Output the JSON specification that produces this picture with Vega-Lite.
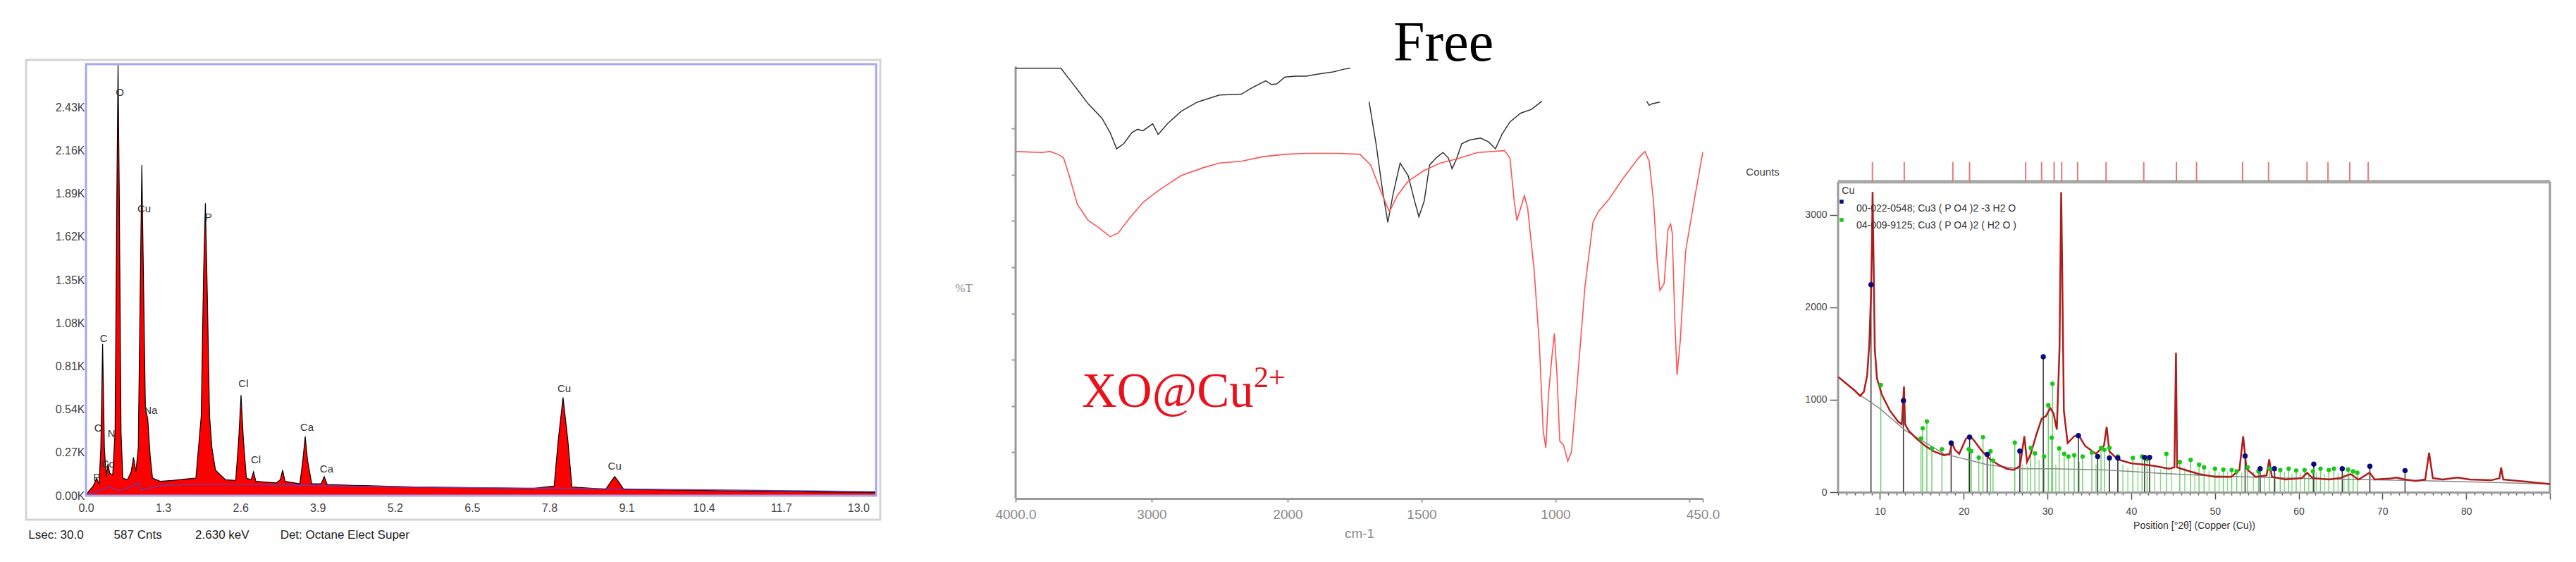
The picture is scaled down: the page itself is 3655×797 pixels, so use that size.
{
"$schema": "https://vega.github.io/schema/vega-lite/v6.json",
"autosize": {"type": "pad"},
"padding": 0,
"background": "white",
"bounds": "flush",
"spacing": 192,
"config": {"view": {"stroke": null}, "font": "Liberation Sans"},
"datasets": {
"eds": [
{"x":0,"y":0},{"x":0.05,"y":30},{"x":0.12,"y":60},{"x":0.18,"y":110},{"x":0.22,"y":70},{"x":0.25,"y":300},{"x":0.28,"y":950},{"x":0.31,"y":300},{"x":0.34,"y":120},{"x":0.37,"y":200},{"x":0.40,"y":140},{"x":0.45,"y":130},{"x":0.49,"y":400},{"x":0.52,"y":1900},{"x":0.54,"y":2700},{"x":0.56,"y":1900},{"x":0.59,"y":400},{"x":0.62,"y":110},{"x":0.70,"y":100},{"x":0.76,"y":150},{"x":0.80,"y":240},{"x":0.84,"y":150},{"x":0.88,"y":300},{"x":0.91,"y":1200},{"x":0.94,"y":2070},{"x":0.97,"y":1300},{"x":1.00,"y":550},{"x":1.04,"y":480},{"x":1.08,"y":250},{"x":1.12,"y":110},{"x":1.25,"y":90},{"x":1.45,"y":95},{"x":1.70,"y":105},{"x":1.85,"y":110},{"x":1.94,"y":500},{"x":1.98,"y":1400},{"x":2.01,"y":1830},{"x":2.04,"y":1300},{"x":2.08,"y":500},{"x":2.12,"y":300},{"x":2.18,"y":160},{"x":2.35,"y":100},{"x":2.52,"y":95},{"x":2.57,"y":350},{"x":2.61,"y":630},{"x":2.65,"y":350},{"x":2.70,"y":110},{"x":2.78,"y":100},{"x":2.82,"y":150},{"x":2.86,"y":90},{"x":3.20,"y":80},{"x":3.27,"y":100},{"x":3.31,"y":160},{"x":3.35,"y":90},{"x":3.60,"y":75},{"x":3.65,"y":220},{"x":3.69,"y":370},{"x":3.73,"y":220},{"x":3.80,"y":75},{"x":3.96,"y":75},{"x":4.01,"y":120},{"x":4.06,"y":70},{"x":4.5,"y":65},{"x":5.5,"y":55},{"x":6.5,"y":50},{"x":7.5,"y":45},{"x":7.88,"y":60},{"x":7.95,"y":350},{"x":8.03,"y":615},{"x":8.11,"y":350},{"x":8.18,"y":55},{"x":8.75,"y":40},{"x":8.82,"y":80},{"x":8.90,"y":120},{"x":8.98,"y":80},{"x":9.05,"y":40},{"x":10.0,"y":35},{"x":11.0,"y":30},{"x":12.0,"y":25},{"x":13.3,"y":20}
],
"edsbg": [
{"x":0,"y":0},{"x":0.2,"y":30},{"x":0.4,"y":55},{"x":0.5,"y":35},{"x":0.6,"y":35},{"x":0.75,"y":55},{"x":0.88,"y":80},{"x":0.93,"y":35},{"x":1.2,"y":60},{"x":1.46,"y":68},{"x":1.75,"y":72},{"x":2.43,"y":72},{"x":3.4,"y":66},{"x":4.4,"y":60},{"x":6,"y":52},{"x":8.2,"y":45},{"x":10.2,"y":38},{"x":13.3,"y":25}
],
"edslab": [
{"x":0.57,"y":2522,"t":"O"},{"x":0.98,"y":1797,"t":"Cu"},{"x":2.06,"y":1744,"t":"P"},{"x":0.30,"y":985,"t":"C"},{"x":1.09,"y":532,"t":"Na"},{"x":2.65,"y":700,"t":"Cl"},{"x":2.86,"y":227,"t":"Cl"},{"x":3.72,"y":430,"t":"Ca"},{"x":4.05,"y":168,"t":"Ca"},{"x":8.05,"y":670,"t":"Cu"},{"x":8.90,"y":187,"t":"Cu"},{"x":0.21,"y":424,"t":"O"},{"x":0.43,"y":388,"t":"N"},{"x":0.37,"y":199,"t":"Cd"},{"x":0.18,"y":115,"t":"P"}
],
"edsfoot": [
{"x":-0.97,"y":-247,"t":"Lsec: 30.0"},{"x":0.47,"y":-247,"t":"587 Cnts"},{"x":1.84,"y":-247,"t":"2.630 keV"},{"x":3.27,"y":-247,"t":"Det: Octane Elect Super"}
],
"free": [
{"x":4000,"y":93,"s":1},{"x":3667,"y":93,"s":1},{"x":3546,"y":88.4,"s":1},{"x":3466,"y":85.3,"s":1},{"x":3365,"y":82.2,"s":1},{"x":3305,"y":79.1,"s":1},{"x":3257,"y":75.6,"s":1},{"x":3205,"y":76.7,"s":1},{"x":3145,"y":79.1,"s":1},{"x":3104,"y":79.8,"s":1},{"x":3064,"y":79.5,"s":1},{"x":2992,"y":81,"s":1},{"x":2952,"y":78.7,"s":1},{"x":2884,"y":81,"s":1},{"x":2783,"y":83.7,"s":1},{"x":2663,"y":85.7,"s":1},{"x":2502,"y":87.2,"s":1},{"x":2341,"y":87.4,"s":1},{"x":2261,"y":88.8,"s":1},{"x":2161,"y":90.3,"s":1},{"x":2120,"y":89.5,"s":1},{"x":2080,"y":89.6,"s":1},{"x":2020,"y":91.1,"s":1},{"x":1970,"y":91.3,"s":1},{"x":1930,"y":91.3,"s":1},{"x":1890,"y":91.7,"s":1},{"x":1830,"y":92.2,"s":1},{"x":1790,"y":92.8,"s":1},{"x":1766,"y":93,"s":1},
{"x":1696,"y":85.8,"s":2},{"x":1670,"y":76.7,"s":2},{"x":1646,"y":66.7,"s":2},{"x":1626,"y":59.7,"s":2},{"x":1606,"y":65.9,"s":2},{"x":1580,"y":72.5,"s":2},{"x":1550,"y":69.8,"s":2},{"x":1526,"y":64.3,"s":2},{"x":1510,"y":60.9,"s":2},{"x":1490,"y":64.3,"s":2},{"x":1470,"y":72.1,"s":2},{"x":1446,"y":73.6,"s":2},{"x":1420,"y":74.8,"s":2},{"x":1400,"y":73.6,"s":2},{"x":1386,"y":71.3,"s":2},{"x":1370,"y":73.3,"s":2},{"x":1350,"y":76.7,"s":2},{"x":1320,"y":77.5,"s":2},{"x":1280,"y":77.9,"s":2},{"x":1250,"y":77.1,"s":2},{"x":1224,"y":75.6,"s":2},{"x":1200,"y":78.7,"s":2},{"x":1170,"y":81.4,"s":2},{"x":1130,"y":83.3,"s":2},{"x":1090,"y":84.1,"s":2},{"x":1050,"y":85.9,"s":2},
{"x":660,"y":85.9,"s":3},{"x":650,"y":85.0,"s":3},{"x":640,"y":85.3,"s":3},{"x":610,"y":85.7,"s":3}
],
"cu": [
{"x":4000,"y":75},{"x":3807,"y":74.8},{"x":3747,"y":75},{"x":3687,"y":74.4},{"x":3647,"y":73.6},{"x":3606,"y":69.8},{"x":3546,"y":63.6},{"x":3466,"y":60.1},{"x":3386,"y":58.5},{"x":3305,"y":56.6},{"x":3245,"y":57.4},{"x":3165,"y":60.5},{"x":3064,"y":64},{"x":2944,"y":66.7},{"x":2783,"y":69.8},{"x":2622,"y":71.5},{"x":2502,"y":72.5},{"x":2341,"y":72.9},{"x":2181,"y":73.9},{"x":2020,"y":74.4},{"x":1930,"y":74.6},{"x":1810,"y":74.6},{"x":1730,"y":74.4},{"x":1690,"y":72.1},{"x":1654,"y":66.7},{"x":1620,"y":62},{"x":1590,"y":65.5},{"x":1550,"y":68.6},{"x":1490,"y":70.9},{"x":1430,"y":72.5},{"x":1370,"y":73.4},{"x":1290,"y":74.8},{"x":1190,"y":75.2},{"x":1170,"y":73.6},{"x":1154,"y":64.3},{"x":1144,"y":60.1},{"x":1130,"y":62.8},{"x":1116,"y":65.5},{"x":1104,"y":62.8},{"x":1080,"y":49.6},{"x":1060,"y":33.3},{"x":1046,"y":14.7},{"x":1036,"y":10.9},{"x":1026,"y":22.5},{"x":1014,"y":30.2},{"x":1004,"y":35.7},{"x":994,"y":26.4},{"x":984,"y":12.4},{"x":970,"y":11.6},{"x":954,"y":8.1},{"x":940,"y":10.1},{"x":920,"y":24},{"x":890,"y":45.7},{"x":860,"y":59.7},{"x":840,"y":62},{"x":800,"y":64.7},{"x":750,"y":69},{"x":690,"y":73.6},{"x":666,"y":75},{"x":650,"y":72.9},{"x":634,"y":64.3},{"x":620,"y":51.2},{"x":610,"y":45},{"x":594,"y":46.5},{"x":580,"y":58.1},{"x":570,"y":59.3},{"x":564,"y":57.4},{"x":554,"y":38},{"x":546,"y":26.7},{"x":534,"y":34.1},{"x":514,"y":53.5},{"x":480,"y":65.1},{"x":450,"y":74.8}
],
"xrd": [
{"x":5.04,"y":1247},{"x":6.01,"y":1174},{"x":6.98,"y":1101},{"x":7.63,"y":1043},{"x":8.08,"y":1087},{"x":8.47,"y":1262},{"x":8.73,"y":1612},{"x":8.93,"y":2138},{"x":9.05,"y":2722},{"x":9.12,"y":3250},{"x":9.25,"y":2430},{"x":9.38,"y":1554},{"x":9.64,"y":1233},{"x":10.22,"y":1057},{"x":11.19,"y":882},{"x":12.16,"y":765},{"x":12.61,"y":736},{"x":12.87,"y":1145},{"x":13.0,"y":736},{"x":13.45,"y":663},{"x":14.42,"y":575},{"x":15.4,"y":502},{"x":16.37,"y":444},{"x":17.66,"y":400},{"x":18.31,"y":415},{"x":18.63,"y":532},{"x":18.95,"y":459},{"x":19.47,"y":415},{"x":20.25,"y":575},{"x":20.7,"y":613},{"x":21.22,"y":561},{"x":22.19,"y":444},{"x":23.16,"y":356},{"x":24.13,"y":298},{"x":25.1,"y":254},{"x":25.94,"y":240},{"x":26.72,"y":283},{"x":27.24,"y":605},{"x":27.56,"y":327},{"x":28.01,"y":415},{"x":28.66,"y":619},{"x":29.31,"y":795},{"x":29.82,"y":824},{"x":30.34,"y":911},{"x":30.73,"y":853},{"x":31.12,"y":678},{"x":31.44,"y":1554},{"x":31.64,"y":3248},{"x":31.76,"y":2430},{"x":31.96,"y":882},{"x":32.41,"y":532},{"x":33.19,"y":605},{"x":33.71,"y":619},{"x":34.48,"y":502},{"x":35.78,"y":415},{"x":36.75,"y":502},{"x":37.07,"y":707},{"x":37.39,"y":444},{"x":38.36,"y":356},{"x":39.98,"y":313},{"x":41.6,"y":298},{"x":42.89,"y":283},{"x":44.51,"y":254},{"x":45.16,"y":269},{"x":45.35,"y":1510},{"x":45.48,"y":269},{"x":46.45,"y":240},{"x":48.07,"y":196},{"x":50.01,"y":166},{"x":51.95,"y":166},{"x":52.92,"y":240},{"x":53.37,"y":605},{"x":53.76,"y":254},{"x":54.86,"y":166},{"x":56.16,"y":181},{"x":56.48,"y":356},{"x":56.8,"y":166},{"x":58.42,"y":137},{"x":60.36,"y":152},{"x":61.01,"y":210},{"x":61.66,"y":152},{"x":63.6,"y":137},{"x":64.89,"y":152},{"x":66.19,"y":196},{"x":67.16,"y":137},{"x":68.45,"y":210},{"x":69.1,"y":137},{"x":70.71,"y":146},{"x":71.68,"y":158},{"x":72.66,"y":137},{"x":73.95,"y":123},{"x":75.11,"y":137},{"x":75.57,"y":427},{"x":76.02,"y":152},{"x":77.18,"y":137},{"x":79.0,"y":158},{"x":80.42,"y":137},{"x":83.0,"y":129},{"x":83.98,"y":152},{"x":84.17,"y":267},{"x":84.43,"y":137},{"x":86.89,"y":117},{"x":90,"y":88}
],
"xbg": [
{"x":5.04,"y":1247},{"x":7.3,"y":1072},{"x":9.9,"y":911},{"x":13.1,"y":663},{"x":17.66,"y":415},{"x":22.8,"y":298},{"x":26.7,"y":254},{"x":30.6,"y":254},{"x":37.1,"y":240},{"x":43.5,"y":204},{"x":50.0,"y":175},{"x":56.5,"y":158},{"x":63.0,"y":143},{"x":69.4,"y":134},{"x":75.9,"y":123},{"x":90,"y":88}
],
"ref1": [
{"x":8.93,"y":2246},{"x":12.8,"y":990},{"x":18.5,"y":532},{"x":20.7,"y":596},{"x":22.8,"y":409},{"x":26.7,"y":444},{"x":29.5,"y":1466},{"x":33.7,"y":613},{"x":36.0,"y":386},{"x":37.4,"y":371},{"x":38.4,"y":371},{"x":41.6,"y":377},{"x":42.2,"y":377},{"x":53.6,"y":391},{"x":55.4,"y":254},{"x":57.1,"y":254},{"x":61.8,"y":304},{"x":65.2,"y":254},{"x":68.5,"y":280},{"x":72.7,"y":234}
],
"ref2": [
{"x":10.1,"y":1160},{"x":14.9,"y":580},{"x":15.1,"y":692},{"x":15.6,"y":765},{"x":16.2,"y":473},{"x":17.4,"y":465},{"x":20.6,"y":465},{"x":20.9,"y":445},{"x":21.8,"y":374},{"x":22.3,"y":595},{"x":23.2,"y":443},{"x":23.5,"y":343},{"x":26.1,"y":537},{"x":28.0,"y":479},{"x":28.5,"y":420},{"x":29.6,"y":386},{"x":30.1,"y":941},{"x":30.5,"y":590},{"x":30.6,"y":1174},{"x":31.4,"y":473},{"x":32.0,"y":415},{"x":32.5,"y":386},{"x":33.2,"y":400},{"x":34.2,"y":386},{"x":35.3,"y":429},{"x":36.4,"y":479},{"x":36.8,"y":459},{"x":37.4,"y":479},{"x":38.4,"y":386},{"x":40.2,"y":371},{"x":41.3,"y":386},{"x":41.9,"y":356},{"x":44.2,"y":415},{"x":45.8,"y":327},{"x":47.1,"y":350},{"x":48.1,"y":298},{"x":48.7,"y":269},{"x":50.0,"y":254},{"x":51.0,"y":245},{"x":52.0,"y":240},{"x":52.6,"y":225},{"x":53.9,"y":269},{"x":55.2,"y":225},{"x":56.5,"y":254},{"x":57.8,"y":240},{"x":58.8,"y":254},{"x":59.7,"y":234},{"x":60.7,"y":240},{"x":61.7,"y":225},{"x":62.6,"y":254},{"x":63.6,"y":240},{"x":64.2,"y":254},{"x":65.9,"y":245},{"x":66.5,"y":225},{"x":67.0,"y":210}
],
"ref2s": [
{"x":27.0,"y":300},{"x":27.6,"y":280},{"x":29.0,"y":350},{"x":31.0,"y":300},{"x":33.8,"y":330},{"x":35.8,"y":300},{"x":39.0,"y":300},{"x":39.6,"y":260},{"x":40.8,"y":280},{"x":42.8,"y":280},{"x":43.5,"y":250},{"x":44.8,"y":260},{"x":46.4,"y":270},{"x":47.6,"y":240},{"x":49.3,"y":230},{"x":50.5,"y":220},{"x":51.5,"y":230},{"x":53.2,"y":210},{"x":54.6,"y":220},{"x":55.9,"y":200},{"x":57.2,"y":210},{"x":58.3,"y":220},{"x":59.2,"y":200},{"x":60.2,"y":210},{"x":61.2,"y":200},{"x":62.1,"y":215},{"x":63.1,"y":200},{"x":64.7,"y":210},{"x":65.4,"y":200},{"x":66.0,"y":190}
],
"tops": [
{"x":9.1,"y":3360,"y2":3573},{"x":12.9,"y":3360,"y2":3573},{"x":18.7,"y":3360,"y2":3573},{"x":20.7,"y":3360,"y2":3573},{"x":27.4,"y":3360,"y2":3573},{"x":29.3,"y":3360,"y2":3573},{"x":30.8,"y":3360,"y2":3573},{"x":31.7,"y":3360,"y2":3573},{"x":33.6,"y":3360,"y2":3573},{"x":37.0,"y":3360,"y2":3573},{"x":41.5,"y":3360,"y2":3573},{"x":45.4,"y":3360,"y2":3573},{"x":47.8,"y":3360,"y2":3573},{"x":53.3,"y":3360,"y2":3573},{"x":56.4,"y":3360,"y2":3573},{"x":61.0,"y":3360,"y2":3573},{"x":63.5,"y":3360,"y2":3573},{"x":66.1,"y":3360,"y2":3573},{"x":68.3,"y":3360,"y2":3573}
]
},
"hconcat": [
{
"width": 1127, "height": 618,
"encoding": {
"x": {"field": "x", "type": "quantitative", "scale": {"domain": [0, 13.37], "nice": false, "zero": false},
 "axis": {"values": [0, 1.3, 2.6, 3.9, 5.2, 6.5, 7.8, 9.1, 10.4, 11.7, 13], "format": ".1f", "domain": false, "ticks": false, "grid": false, "labelFontSize": 16, "labelColor": "#444", "labelPadding": 9, "labelFlush": false, "labelOverlap": false, "title": null}},
"y": {"field": "y", "type": "quantitative", "scale": {"domain": [0, 2727], "nice": false, "zero": false},
 "axis": {"values": [0, 270, 540, 810, 1080, 1350, 1620, 1890, 2160, 2430], "labelExpr": "format(datum.value/1000,'.2f')+'K'", "domain": false, "ticks": false, "grid": false, "labelFontSize": 16, "labelColor": "#444", "labelPadding": 2, "title": null}}
},
"layer": [
{"data": {"values": [{"x": -1.447, "y": 3102}]}, "mark": {"type": "rule", "opacity": 0, "strokeWidth": 0}, "encoding": {}},
{"data": {"values": [{"x": -1.008, "x2": 13.37, "y": -150, "y2": 2727}]}, "mark": {"type": "rect", "fill": null, "stroke": "#d4d4d4", "strokeWidth": 3}, "encoding": {"x2": {"field": "x2"}, "y2": {"field": "y2"}}},
{"data": {"name": "eds"}, "mark": {"type": "area", "color": "#ff0000", "clip": true}},
{"data": {"name": "eds"}, "mark": {"type": "line", "color": "#000000", "strokeWidth": 1.2, "clip": true}},
{"data": {"name": "edsbg"}, "mark": {"type": "line", "color": "#6a3aa8", "strokeWidth": 1.5}},
{"data": {"values": [{"x": 0, "x2": 13.3, "y": 0, "y2": 2700}]}, "mark": {"type": "rect", "fill": null, "stroke": "#a6a6f2", "strokeWidth": 3}, "encoding": {"x2": {"field": "x2"}, "y2": {"field": "y2"}}},
{"data": {"name": "edslab"}, "mark": {"type": "text", "fontSize": 15, "color": "#333", "align": "center", "baseline": "middle"}, "encoding": {"text": {"field": "t"}}},
{"data": {"name": "edsfoot"}, "mark": {"type": "text", "fontSize": 17, "color": "#222", "align": "left", "baseline": "middle"}, "encoding": {"text": {"field": "t"}}}
]
},
{
"width": 975, "height": 622,
"encoding": {
"x": {"field": "x", "type": "quantitative", "scale": {"domain": [4000, 2000, 450], "range": [0, 386, 975], "nice": false, "zero": false},
 "axis": {"values": [4000, 3000, 2000, 1500, 1000, 500, 450], "format": "d", "labelExpr": "datum.value==4000 ? '4000.0' : datum.value==450 ? '450.0' : datum.value==500 ? '' : datum.label", "domainColor": "#9a9a9a", "domainWidth": 3, "tickColor": "#9a9a9a", "tickSize": 5, "tickWidth": 2, "grid": false, "labelColor": "#8a8a8a", "labelFontSize": 19, "labelPadding": 8, "labelFlush": false, "labelOverlap": false, "title": "cm-1", "titleColor": "#8a8a8a", "titleFontSize": 19, "titleFontWeight": "normal", "titlePadding": 8}},
"y": {"field": "y", "type": "quantitative", "scale": {"domain": [0, 94.8], "nice": false, "zero": false},
 "axis": {"values": [10, 20, 30, 40, 50, 60, 70, 80], "labels": false, "domain": false, "tickColor": "#9a9a9a", "tickSize": 6, "tickWidth": 2, "grid": false, "title": "%T", "titleAngle": 0, "titleX": -74, "titleY": 332, "titleColor": "#8a8a8a", "titleFontSize": 17, "titleFontWeight": "normal", "titleFont": "Liberation Serif"}}
},
"layer": [
{"data": {"values": [{"x": 4000, "y": 0, "y2": 93.4}]}, "mark": {"type": "rule", "color": "#9a9a9a", "strokeWidth": 3}, "encoding": {"y2": {"field": "y2"}}},
{"data": {"name": "free"}, "mark": {"type": "line", "color": "#333333", "strokeWidth": 1.5}, "encoding": {"detail": {"field": "s"}}},
{"data": {"name": "cu"}, "mark": {"type": "line", "color": "#ff5252", "strokeWidth": 1.6}},
{"data": {"values": [{"x": 1418, "y": 94.7, "t": "Free"}]}, "mark": {"type": "text", "font": "Liberation Serif", "fontSize": 80, "color": "#000", "align": "center", "baseline": "alphabetic"}, "encoding": {"text": {"field": "t"}}},
{"data": {"values": [{"x": 3513, "y": 19.8, "t": "XO@Cu"}]}, "mark": {"type": "text", "font": "Liberation Serif", "fontSize": 69, "color": "#e8121c", "align": "left", "baseline": "alphabetic"}, "encoding": {"text": {"field": "t"}}},
{"data": {"values": [{"x": 2249, "y": 24.1, "t": "2+"}]}, "mark": {"type": "text", "font": "Liberation Serif", "fontSize": 42, "color": "#e8121c", "align": "left", "baseline": "alphabetic"}, "encoding": {"text": {"field": "t"}}}
]
},
{
"width": 1010, "height": 613,
"encoding": {
"x": {"field": "x", "type": "quantitative", "scale": {"domain": [5, 90], "nice": false, "zero": false},
 "axis": {"values": [5,6,7,8,9,10,11,12,13,14,15,16,17,18,19,20,21,22,23,24,25,26,27,28,29,30,31,32,33,34,35,36,37,38,39,40,41,42,43,44,45,46,47,48,49,50,51,52,53,54,55,56,57,58,59,60,61,62,63,64,65,66,67,68,69,70,71,72,73,74,75,76,77,78,79,80,81,82,83,84,85,86,87,88,89,90],
  "format": "d",
  "labelExpr": "(datum.value % 10 == 0 && datum.value >= 10 && datum.value <= 80) ? datum.label : ''",
  "tickSize": {"condition": {"test": "datum.value % 10 == 0", "value": 10}, "value": 4},
  "tickColor": "#555", "tickWidth": 1.5, "domainColor": "#9a9a9a", "domainWidth": 3, "grid": false, "labelColor": "#444", "labelFontSize": 14, "labelPadding": 10, "labelFlush": false, "labelOverlap": false,
  "title": "Position [°2θ] (Copper (Cu))", "titleFontSize": 14, "titleFontWeight": "normal", "titleColor": "#333", "titlePadding": 6}},
"y": {"field": "y", "type": "quantitative", "scale": {"domain": [0, 4679], "nice": false, "zero": false},
 "axis": {"values": [0, 1000, 2000, 3000], "format": "d", "domain": false, "tickSize": 12, "tickColor": "#555", "tickWidth": 1.5, "grid": false, "labelColor": "#444", "labelFontSize": 14, "labelPadding": 4, "title": null}}
},
"layer": [
{"data": {"values": [{"x": 93.11, "y": -756}]}, "mark": {"type": "rule", "opacity": 0, "strokeWidth": 0}, "encoding": {}},
{"data": {"values": [{"x": 5, "y": 0, "y2": 3360}, {"x": 90, "y": 0, "y2": 3360}]}, "mark": {"type": "rule", "color": "#9a9a9a", "strokeWidth": 3}, "encoding": {"y2": {"field": "y2"}}},
{"data": {"values": [{"x": 5, "x2": 90, "y": 3360}]}, "mark": {"type": "rule", "color": "#a8a8a8", "strokeWidth": 5}, "encoding": {"x2": {"field": "x2"}}},
{"data": {"name": "tops"}, "mark": {"type": "rule", "color": "#e07a7a", "strokeWidth": 2}, "encoding": {"y2": {"field": "y2"}}},
{"data": {"name": "ref2s"}, "mark": {"type": "rule", "color": "#8fdc8f", "strokeWidth": 1.5}, "encoding": {"y2": {"datum": 0}}},
{"data": {"name": "ref2"}, "mark": {"type": "rule", "color": "#6fcf6f", "strokeWidth": 1.5}, "encoding": {"y2": {"datum": 0}}},
{"data": {"name": "ref1"}, "mark": {"type": "rule", "color": "#333", "strokeWidth": 1.5}, "encoding": {"y2": {"datum": 0}}},
{"data": {"name": "xbg"}, "mark": {"type": "line", "color": "#8a8a8a", "strokeWidth": 1.5}},
{"data": {"name": "xrd"}, "mark": {"type": "line", "color": "#b01c1c", "strokeWidth": 2.5}},
{"data": {"name": "ref2"}, "mark": {"type": "point", "shape": "circle", "filled": true, "color": "#19c819", "size": 40, "opacity": 1}},
{"data": {"name": "ref1"}, "mark": {"type": "point", "shape": "circle", "filled": true, "color": "#0a0a80", "size": 55, "opacity": 1}},
{"data": {"values": [{"x": 5.42, "y": 3145}]}, "mark": {"type": "point", "shape": "square", "filled": true, "color": "#0a0a80", "size": 30, "opacity": 1}},
{"data": {"values": [{"x": 5.42, "y": 2947}]}, "mark": {"type": "point", "shape": "square", "filled": true, "color": "#19c819", "size": 30, "opacity": 1}},
{"data": {"values": [{"x": 5.45, "y": 3260, "t": "Cu"}, {"x": 7.19, "y": 3069, "t": "00-022-0548; Cu3 ( P O4 )2 -3 H2 O"}, {"x": 7.19, "y": 2885, "t": "04-009-9125; Cu3 ( P O4 )2 ( H2 O )"}]}, "mark": {"type": "text", "fontSize": 14, "color": "#333", "align": "left", "baseline": "middle"}, "encoding": {"text": {"field": "t"}}},
{"data": {"values": [{"x": -4.0, "y": 3466, "t": "Counts"}]}, "mark": {"type": "text", "fontSize": 15, "color": "#444", "align": "center", "baseline": "middle"}, "encoding": {"text": {"field": "t"}}}
]
}
]
}
